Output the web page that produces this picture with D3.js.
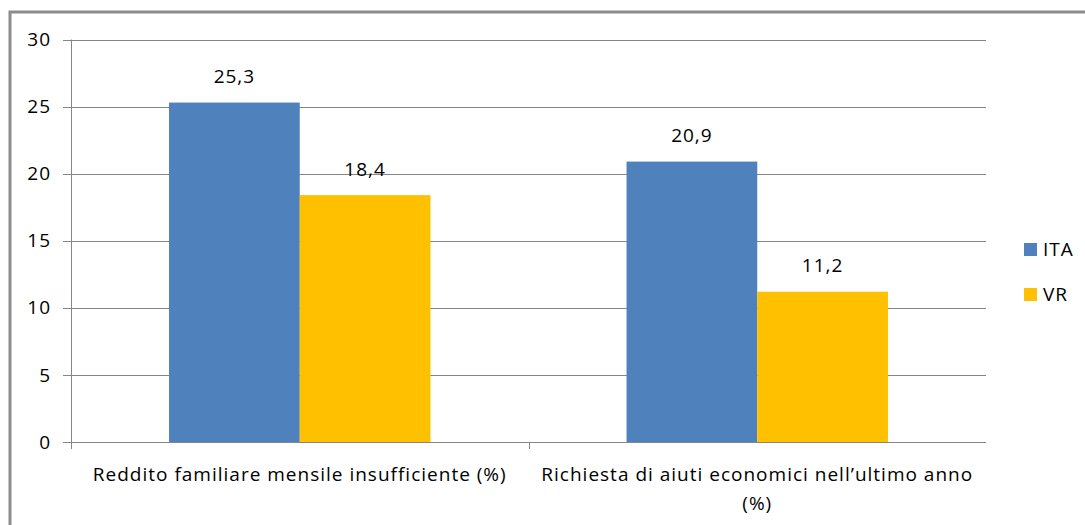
<!DOCTYPE html>
<html>
<head>
<meta charset="utf-8">
<script src="https://cdn.jsdelivr.net/npm/d3@7"></script>
<style>
  html, body { margin: 0; padding: 0; background: #fff; }
  svg { display: block; }
  text { font-family: "Open Sans", "Liberation Sans", sans-serif; fill: #000; letter-spacing: 1px; }
</style>
</head>
<body>
<svg id="chart" width="1085" height="525"></svg>
<script>
// Categories (each label split into its drawn lines)
const categories = [
  ["Reddito familiare mensile insufficiente (%)"],
  ["Richiesta di aiuti economici nell\u2019ultimo anno", "(%)"]
];
const seriesNames = ["ITA", "VR"];
const itaValues = [25.3, 20.9];
const vrValues = [18.4, 11.2];
const yTicks = [0, 5, 10, 15, 20, 25, 30];

const colors = { ITA: "#4f81bd", VR: "#ffc000" };
const gridColor = "#868686";
const fontSize = 19;

const svg = d3.select("#chart");
const W = 1085, H = 525;

// outer frame of the chart area
svg.append("rect")
  .attr("x", 10).attr("y", 12)
  .attr("width", W + 20).attr("height", H + 20)
  .attr("fill", "none")
  .attr("stroke", "#8c8c8c")
  .attr("stroke-width", 3);

const plot = { left: 71, right: 986, top: 39.5, bottom: 442 };

const x0 = d3.scaleBand()
  .domain(d3.range(categories.length))
  .range([plot.left, plot.right])
  .paddingInner(0).paddingOuter(0);

const x1 = d3.scaleBand()
  .domain(seriesNames)
  .range([0, x0.bandwidth()])
  .paddingOuter(0.75).paddingInner(0);

const y = d3.scaleLinear().domain([0, 30]).range([plot.bottom, plot.top]);

// horizontal gridlines
svg.append("g").selectAll("line")
  .data(yTicks)
  .join("line")
  .attr("x1", plot.left - 8).attr("x2", plot.right)
  .attr("y1", d => Math.round(y(d)) + 0.5).attr("y2", d => Math.round(y(d)) + 0.5)
  .attr("stroke", gridColor).attr("stroke-width", 1);

// y axis labels
svg.append("g").selectAll("text")
  .data(yTicks)
  .join("text")
  .attr("x", 51)
  .attr("y", d => y(d))
  .attr("dy", "0.35em")
  .attr("text-anchor", "end")
  .attr("font-size", fontSize)
  .text(d => d);

// y axis line
svg.append("line")
  .attr("x1", plot.left + 0.5).attr("x2", plot.left + 0.5)
  .attr("y1", plot.top).attr("y2", plot.bottom + 7)
  .attr("stroke", gridColor);

// category separator ticks (between groups)
svg.append("g").selectAll("line")
  .data(d3.range(1, categories.length))
  .join("line")
  .attr("x1", d => Math.round(x0(d)) + 0.5)
  .attr("x2", d => Math.round(x0(d)) + 0.5)
  .attr("y1", plot.bottom).attr("y2", plot.bottom + 7)
  .attr("stroke", gridColor);

// bars
const rows = categories.map((c, i) => ({ i, ITA: itaValues[i], VR: vrValues[i] }));
const groups = svg.append("g").selectAll("g")
  .data(rows)
  .join("g")
  .attr("transform", d => `translate(${x0(d.i)},0)`);

groups.selectAll("rect")
  .data(d => seriesNames.map(s => ({ s, v: d[s] })))
  .join("rect")
  .attr("x", d => x1(d.s))
  .attr("y", d => y(d.v))
  .attr("width", x1.bandwidth())
  .attr("height", d => y(0) - y(d.v))
  .attr("fill", d => colors[d.s]);

// value labels
groups.selectAll("text")
  .data(d => seriesNames.map(s => ({ s, v: d[s] })))
  .join("text")
  .attr("x", d => x1(d.s) + x1.bandwidth() / 2)
  .attr("y", d => y(d.v) - 19.5)
  .attr("text-anchor", "middle")
  .attr("font-size", fontSize)
  .text(d => d3.format(".1f")(d.v).replace(".", ","));

// category labels
svg.append("g").selectAll("text")
  .data(categories)
  .join("text")
  .attr("x", (d, i) => x0(i) + x0.bandwidth() / 2)
  .attr("y", 481)
  .attr("text-anchor", "middle")
  .attr("font-size", fontSize)
  .selectAll("tspan")
  .data(d => d)
  .join("tspan")
  .attr("x", function () { return this.parentNode.getAttribute("x"); })
  .attr("dy", (d, j) => j === 0 ? 0 : 29)
  .text(d => d);

// legend
const legend = svg.append("g").selectAll("g")
  .data(seriesNames)
  .join("g")
  .attr("transform", (d, i) => `translate(1024,${243 + i * 45})`);
legend.append("rect")
  .attr("width", 13).attr("height", 13)
  .attr("fill", d => colors[d]);
legend.append("text")
  .attr("x", 19).attr("y", 6.5).attr("dy", "0.35em")
  .attr("font-size", fontSize)
  .text(d => d);
</script>
</body>
</html>
